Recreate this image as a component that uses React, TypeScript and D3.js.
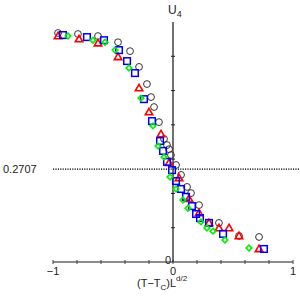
import * as d3 from "d3";
import { useEffect, useRef } from "react";

// black circles
const circleX = [-0.958, -0.792, -0.625, -0.458, -0.358, -0.283, -0.217, -0.183, -0.158, -0.117, -0.075, -0.05, -0.033, -0.017, 0.025, 0.067, 0.117, 0.15, 0.217, 0.383, 0.55, 0.717];
const circleY = [0.668, 0.665, 0.659, 0.641, 0.615, 0.569, 0.519, 0.481, 0.452, 0.408, 0.359, 0.341, 0.329, 0.312, 0.283, 0.254, 0.219, 0.201, 0.166, 0.114, 0.076, 0.073];

// red triangles
const triX = [-0.958, -0.783, -0.625, -0.458, -0.283, -0.2, -0.1, -0.033, 0.05, 0.133, 0.217, 0.3, 0.383, 0.467, 0.55, 0.717];
const triY = [0.659, 0.65, 0.638, 0.598, 0.507, 0.437, 0.373, 0.289, 0.245, 0.184, 0.143, 0.114, 0.099, 0.099, 0.076, 0.038];

// blue squares
const sqX = [-0.917, -0.717, -0.575, -0.45, -0.383, -0.317, -0.242, -0.175, -0.108, -0.083, -0.05, -0.008, 0.025, 0.067, 0.108, 0.158, 0.192, 0.225, 0.3, 0.417, 0.758];
const sqY = [0.662, 0.656, 0.647, 0.618, 0.586, 0.551, 0.475, 0.411, 0.353, 0.324, 0.292, 0.268, 0.236, 0.213, 0.19, 0.163, 0.14, 0.128, 0.114, 0.082, 0.038];

// green diamonds
const diaX = [-0.875, -0.667, -0.567, -0.483, -0.367, -0.267, -0.167, -0.125, -0.075, -0.025, 0.025, 0.083, 0.125, 0.233, 0.283, 0.333, 0.433, 0.633];
const diaY = [0.659, 0.647, 0.641, 0.618, 0.566, 0.478, 0.397, 0.338, 0.306, 0.248, 0.213, 0.181, 0.157, 0.117, 0.099, 0.09, 0.064, 0.041];

const xTicks = [-1, -0.8, -0.6, -0.4, -0.2, 0, 0.2, 0.4, 0.6, 0.8, 1];
const xTickLabels = ["\u22121", "0", "1"];
const yTicks = [0.1, 0.2, 0.3, 0.4, 0.5, 0.6];
const critical = 0.2707;

export default function App() {
  const svgRef = useRef(null);

  useEffect(() => {
    const w = 300;
    const h = 299;
    const svg = d3.select(svgRef.current).attr("width", w).attr("height", h);
    svg.selectAll("*").remove();

    const x = d3.scaleLinear().domain([-1, 1]).range([53, 293]);
    const y = d3.scaleLinear().domain([0, 0.7]).range([262, 22]);
    const font = "'Liberation Sans', Arial, sans-serif";

    // dotted line at U4*
    svg.append("line")
      .attr("x1", x(-1)).attr("x2", w)
      .attr("y1", y(critical)).attr("y2", y(critical))
      .attr("stroke", "#000").attr("stroke-width", 1.2)
      .attr("stroke-dasharray", "1.2,1.2");

    svg.append("text").attr("x", 3).attr("y", y(critical) + 4)
      .attr("font-family", font).attr("font-size", 11).attr("fill", "#222")
      .text(String(critical));

    // x axis
    svg.append("line")
      .attr("x1", x(-1)).attr("x2", x(1))
      .attr("y1", y(0)).attr("y2", y(0))
      .attr("stroke", "#666").attr("stroke-width", 1.3);
    svg.selectAll(".xt").data(xTicks).enter().append("line")
      .attr("x1", (d) => x(d)).attr("x2", (d) => x(d))
      .attr("y1", y(0) - 2).attr("y2", y(0) + 2)
      .attr("stroke", "#444").attr("stroke-width", 1);
    svg.selectAll(".xl").data([-1, 0, 1]).enter().append("text")
      .attr("x", (d) => x(d)).attr("y", y(0) + 13)
      .attr("text-anchor", "middle")
      .attr("font-family", font).attr("font-size", 11).attr("fill", "#222")
      .text((d, i) => xTickLabels[i]);

    // y axis
    svg.append("line")
      .attr("x1", x(0)).attr("x2", x(0))
      .attr("y1", y(0)).attr("y2", y(0.7))
      .attr("stroke", "#222").attr("stroke-width", 1.3);
    svg.selectAll(".yt").data(yTicks).enter().append("line")
      .attr("x1", x(0) - 2).attr("x2", x(0) + 2)
      .attr("y1", (d) => y(d)).attr("y2", (d) => y(d))
      .attr("stroke", "#222").attr("stroke-width", 1);
    svg.append("text").attr("x", x(0) - 2).attr("y", y(0) + 2)
      .attr("text-anchor", "end")
      .attr("font-family", font).attr("font-size", 11).attr("fill", "#222")
      .text("0");

    // axis titles
    const yt = svg.append("text").attr("x", 168).attr("y", 14)
      .attr("font-family", font).attr("font-size", 12).attr("fill", "#222");
    yt.append("tspan").text("U");
    yt.append("tspan").attr("font-size", 9).attr("dy", 3).text("4");

    const xt = svg.append("text").attr("x", 137).attr("y", 287)
      .attr("font-family", font).attr("font-size", 11).attr("fill", "#222");
    xt.append("tspan").text("(T\u2212T");
    xt.append("tspan").attr("font-size", 8).attr("dy", 3).text("C");
    xt.append("tspan").attr("dy", -3).text(")L");
    xt.append("tspan").attr("font-size", 8).attr("dy", -6).text("d/2");

    // data
    svg.selectAll(".c").data(d3.range(circleX.length)).enter().append("circle")
      .attr("cx", (i) => x(circleX[i])).attr("cy", (i) => y(circleY[i]))
      .attr("r", 3.4).attr("fill", "none")
      .attr("stroke", "#333").attr("stroke-width", 1);

    const tri = d3.symbol().type(d3.symbolTriangle).size(24);
    svg.selectAll(".t").data(d3.range(triX.length)).enter().append("path")
      .attr("d", tri)
      .attr("transform", (i) => `translate(${x(triX[i])},${y(triY[i]) + 0.5})`)
      .attr("fill", "none").attr("stroke", "#ff0000").attr("stroke-width", 1.6);

    svg.selectAll(".s").data(d3.range(sqX.length)).enter().append("rect")
      .attr("x", (i) => x(sqX[i]) - 3.3).attr("y", (i) => y(sqY[i]) - 3.3)
      .attr("width", 6.6).attr("height", 6.6)
      .attr("fill", "none").attr("stroke", "#0000ff").attr("stroke-width", 1.5);

    const dia = d3.symbol().type(d3.symbolSquare).size(16);
    svg.selectAll(".d").data(d3.range(diaX.length)).enter().append("path")
      .attr("d", dia)
      .attr("transform", (i) => `translate(${x(diaX[i])},${y(diaY[i])}) rotate(45)`)
      .attr("fill", "none").attr("stroke", "#00ee00").attr("stroke-width", 1.6);
  }, []);

  return (
    <svg ref={svgRef} style={{ position: "absolute", left: 0, top: 0, background: "#fff" }}></svg>
  );
}
